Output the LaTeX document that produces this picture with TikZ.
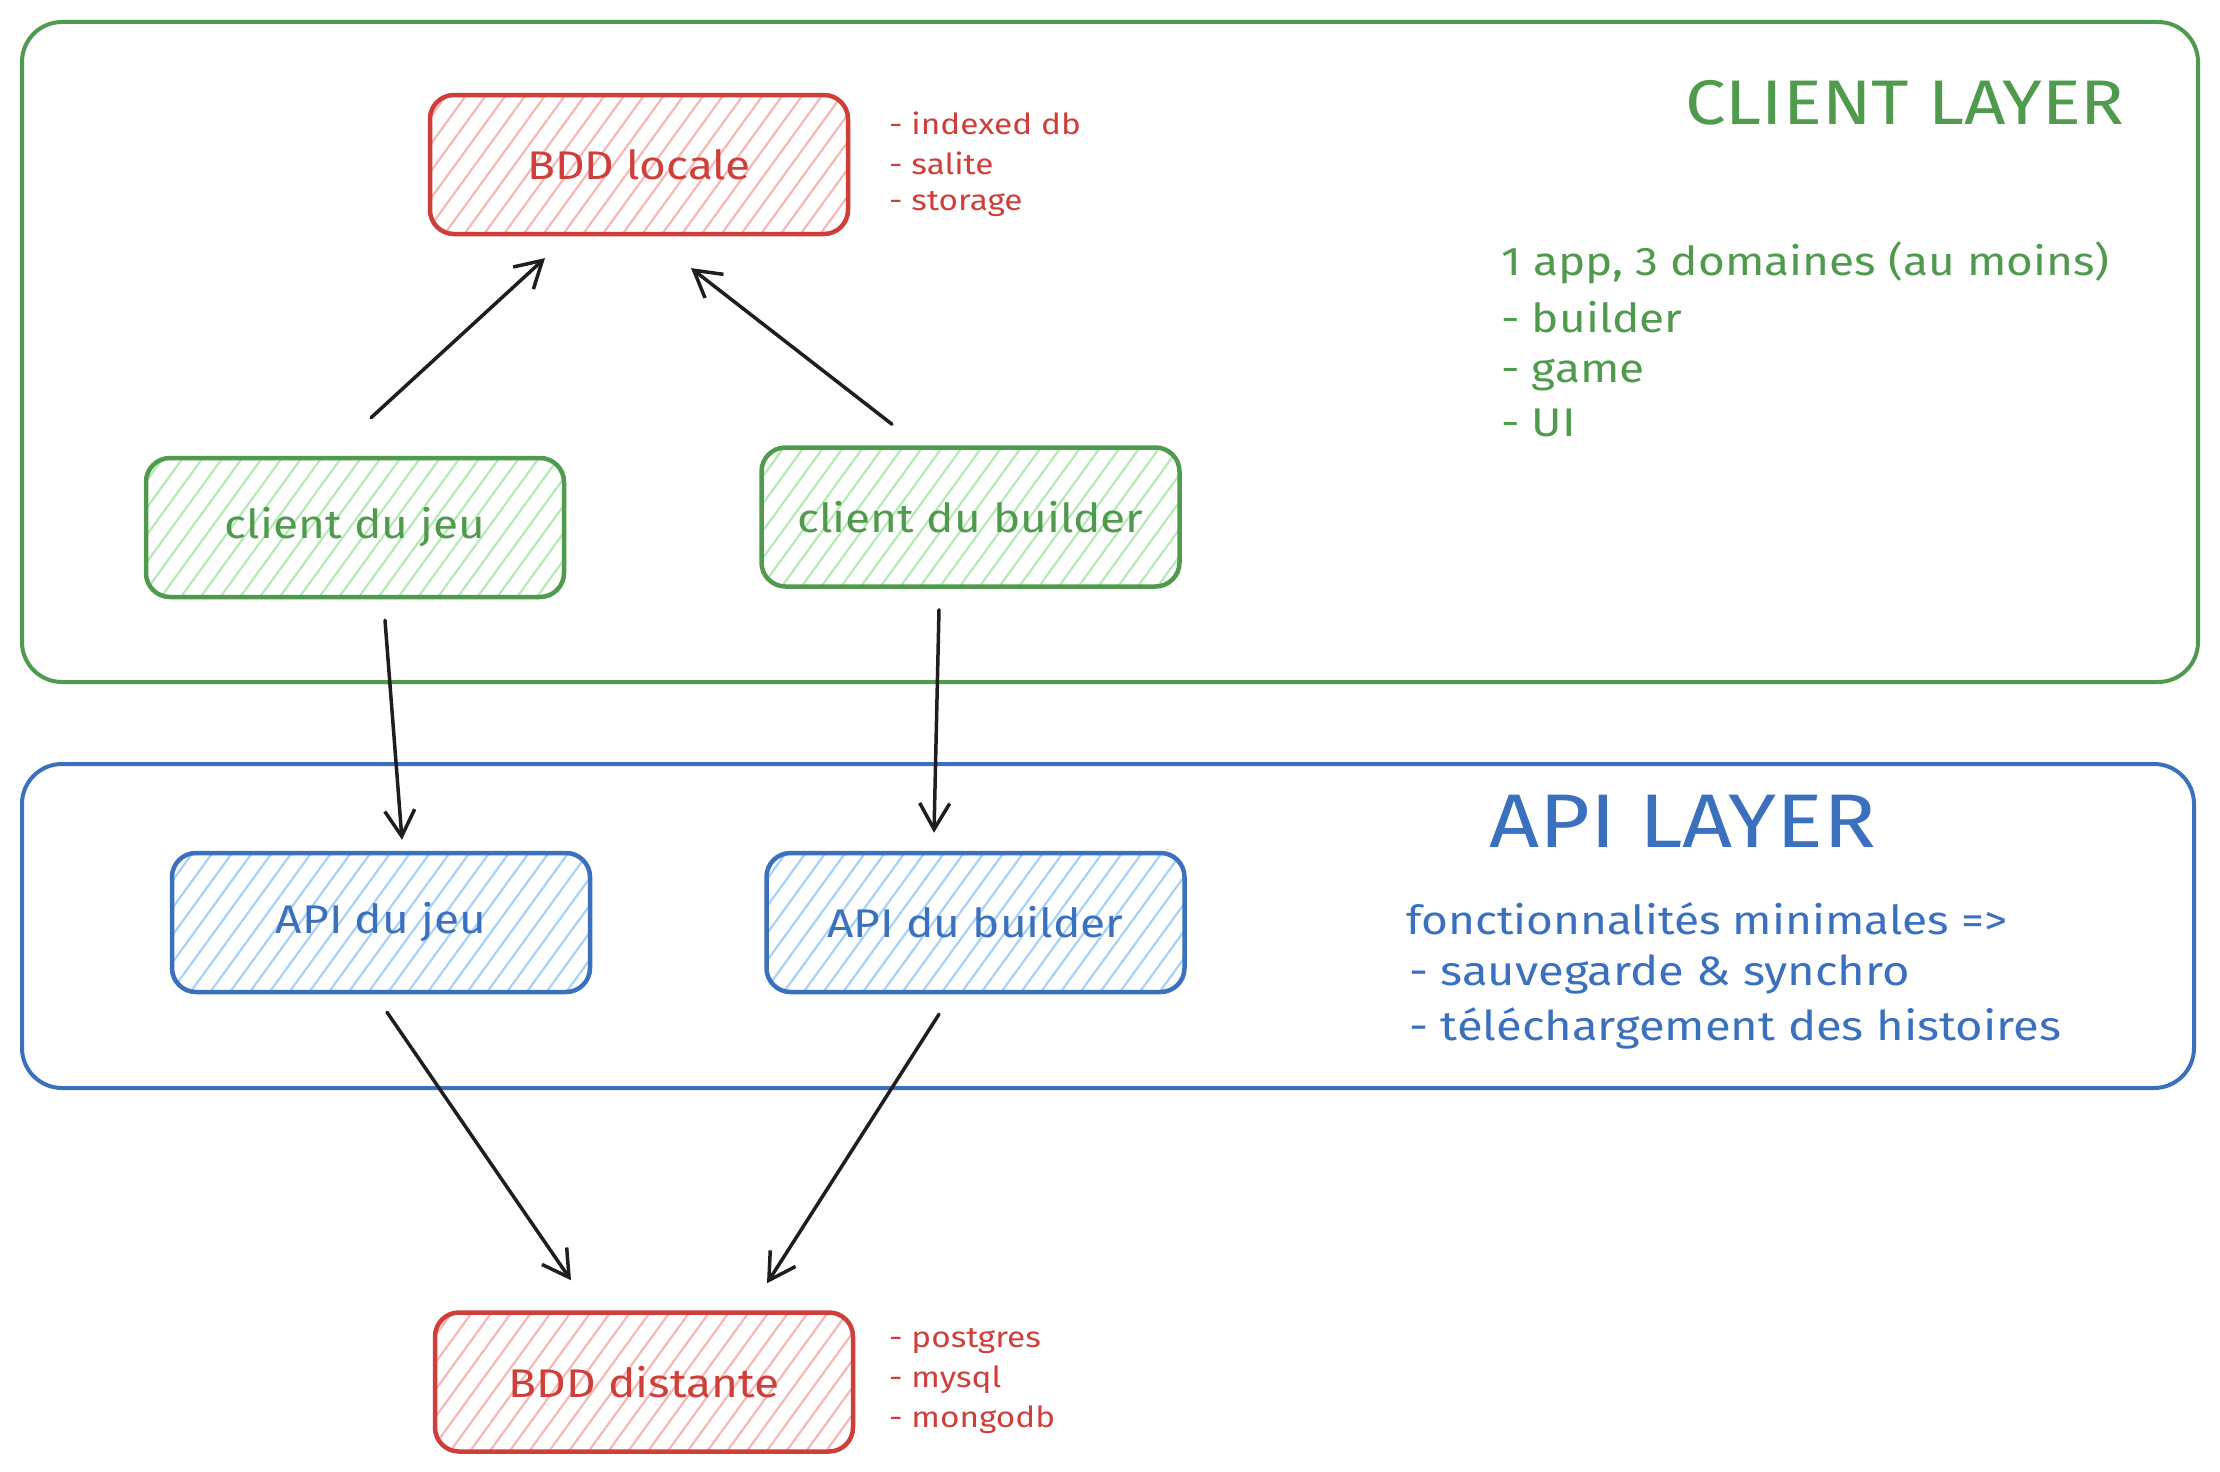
\documentclass[tikz,border=0pt]{standalone}
\usepackage{fontspec}
\setmainfont[FakeStretch=1.15]{Fira Sans}
\usetikzlibrary{arrows.meta,patterns.meta,calc}
\definecolor{rd}{HTML}{CF3F3A}
\definecolor{rdf}{HTML}{F5B8B6}
\definecolor{gn}{HTML}{4F9A4C}
\definecolor{gnf}{HTML}{B4EBB4}
\definecolor{bl}{HTML}{3A70BE}
\definecolor{blf}{HTML}{A6D2F8}
\definecolor{ink}{HTML}{1E1E1E}
\tikzset{
  fsz/.style={font=\fontsize{#1}{#1}\selectfont},
  box/.style={draw=#1, line width=4.5pt, rounded corners=24pt,
    minimum width=418pt, minimum height=139pt, text=#1,
    fsz=40, inner sep=0pt},
  hatch/.style={pattern={Lines[angle=54,distance=16pt,line width=2.2pt]}, pattern color=#1},
  layer/.style={draw=#1, line width=4pt, rounded corners=40pt, inner sep=0pt},
  lbl/.style={anchor=west, text=#1, inner sep=0pt},
  conn/.style={draw=ink, line width=3.5pt, line cap=round,
    -{Straight Barb[length=26pt,width=30pt,line width=3.5pt]}},
}
\begin{document}
\begin{tikzpicture}[x=1pt,y=-1pt]
\useasboundingbox (0,0) rectangle (2220,1472);
% layers
\node[layer=gn, minimum width=2176pt, minimum height=660pt] (clayer) at (1110,352) {};
\node[layer=bl, minimum width=2172pt, minimum height=324pt] (alayer) at (1108,926) {};
% boxes
\node[box=rd, hatch=rdf] (bdl) at (639,164.5) {BDD locale};
\node[box=gn, hatch=gnf] (cj) at (355,527.5) {client du jeu};
\node[box=gn, hatch=gnf] (cb) at (970.5,517) {client du builder};
\node[box=bl, hatch=blf] (aj) at (381,922.5) {API du jeu};
\node[box=bl, hatch=blf] (ab) at (975.5,922.5) {API du builder};
\node[box=rd, hatch=rdf] (bdd) at (644,1382) {BDD distante};
% red lists
\node[lbl=rd, fsz=29] (l1) at (889,123) {- indexed db};
\node[lbl=rd, fsz=29] (l2) at (889,163) {- salite};
\node[lbl=rd, fsz=29] (l3) at (889,204) {- storage};
\node[lbl=rd, fsz=29] (d1) at (889,1341) {- postgres};
\node[lbl=rd, fsz=29] (d2) at (889,1380) {- mysql};
\node[lbl=rd, fsz=29] (d3) at (889,1420) {- mongodb};
% client layer texts
\node[lbl=gn, fsz=63] (ctitle) at (1685,103) {CLIENT LAYER};
\node[lbl=gn, fsz=40] (c1) at (1501,263) {1 app, 3 domaines (au moins)};
\node[lbl=gn, fsz=40] (c2) at (1501,317) {- builder};
\node[lbl=gn, fsz=40] (c3) at (1501,375) {- game};
\node[lbl=gn, fsz=40] (c4) at (1501,423) {- UI};
% api layer texts
\node[lbl=bl, fsz=76] (atitle) at (1489,821) {API LAYER};
\node[lbl=bl, fsz=40] (a1) at (1406,919) {fonctionnalités minimales =>};
\node[lbl=bl, fsz=41] (a2) at (1409,974) {- sauvegarde \& synchro};
\node[lbl=bl, fsz=41] (a3) at (1409,1028) {- téléchargement des histoires};
% connectors
\draw[conn] ($(cj.north)+(16,-38)$) -- ($(bdl.south)+(-94,23)$);
\draw[conn] ($(cb.north)+(-78.5,-21)$) -- ($(bdl.south)+(52,33)$);
\draw[conn] ($(cj.south)+(30,21)$) -- ($(aj.north)+(21,-11)$);
\draw[conn] ($(cb.south)+(-31.5,21)$) -- ($(ab.north)+(-41.5,-18)$);
\draw[conn] ($(aj.south)+(6,18)$) -- ($(bdd.north)+(-73,-30)$);
\draw[conn] ($(ab.south)+(-36.5,20)$) -- ($(bdd.north)+(123,-27)$);
\end{tikzpicture}
\end{document}
